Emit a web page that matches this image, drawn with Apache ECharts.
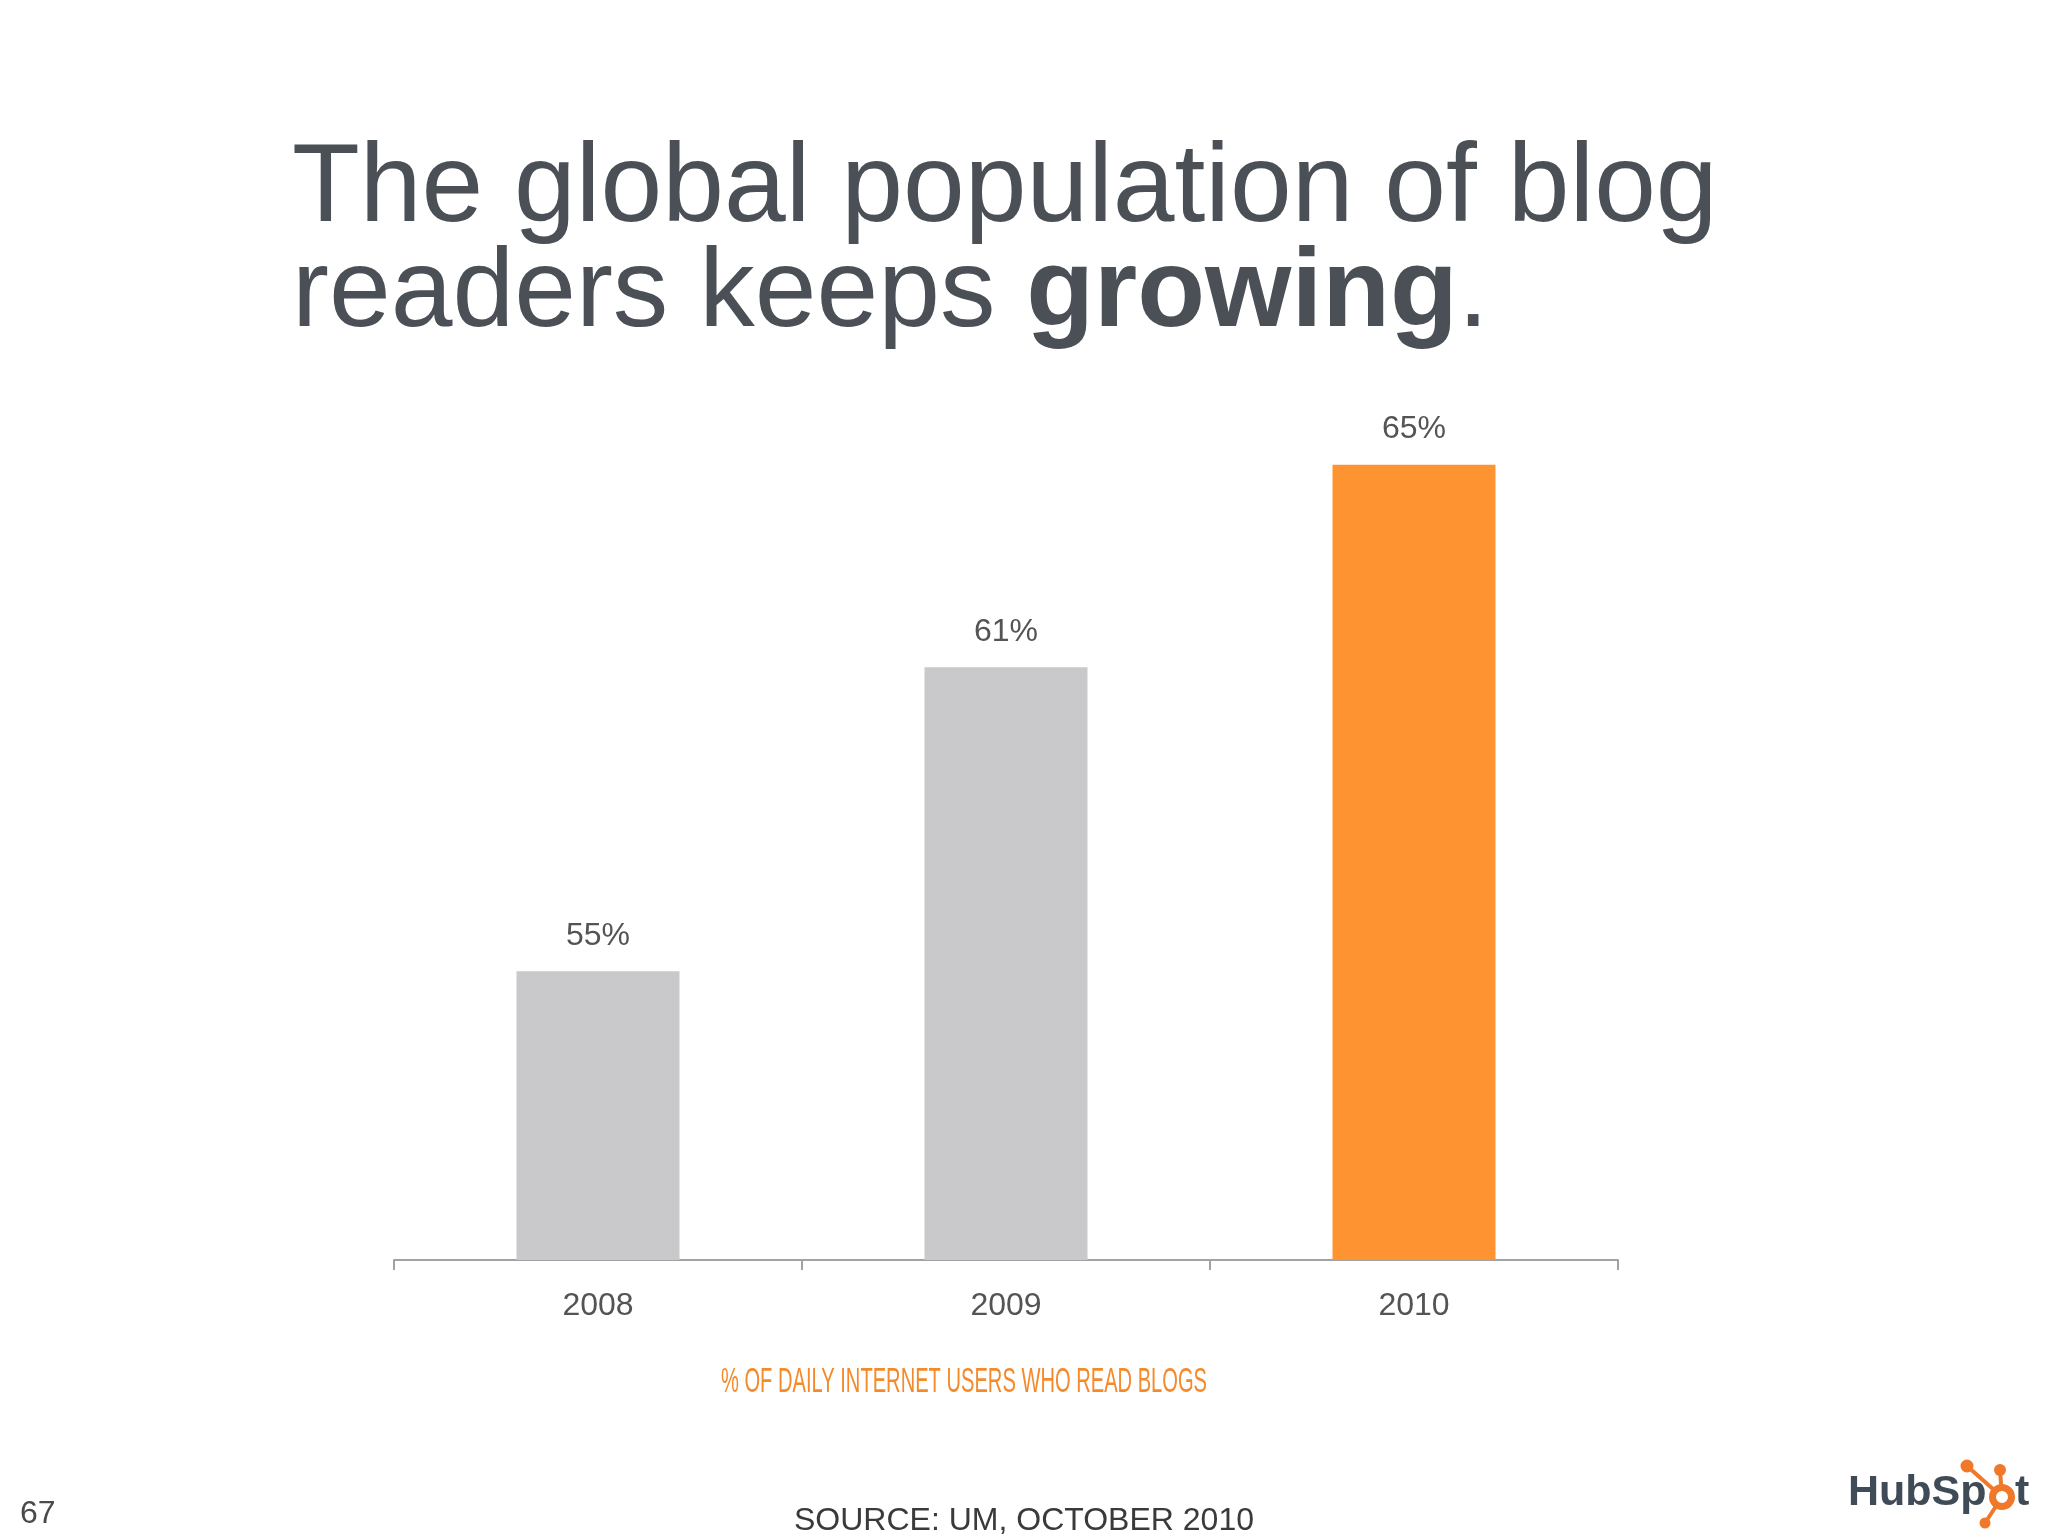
<!DOCTYPE html>
<html>
<head>
<meta charset="utf-8">
<script src="https://cdn.jsdelivr.net/npm/echarts@6/dist/echarts.min.js"></script>
<style>
html,body{margin:0;padding:0;background:#ffffff;}
#chart{width:2048px;height:1536px;}
</style>
</head>
<body>
<div id="chart"></div>
<script>
// ---- data ----
const categories = ['2008', '2009', '2010'];
const readerShare = [55, 61, 65];
const highlightCategory = '2010';
const titleLine1 = 'The global population of blog';
const titleLine2Start = 'readers keeps ';
const titleBoldWord = 'growing';
const titleLine2End = '.';
const subtitleText = '% OF DAILY INTERNET USERS WHO READ BLOGS';
const sourceText = 'SOURCE: UM, OCTOBER 2010';
const pageNumber = '67';

// ---- styles ----
const FONT = '"Liberation Sans", "Helvetica Neue", Arial, sans-serif';
const TEXT_DARK = '#4b5056';
const LABEL_GREY = '#545454';
const BAR_GREY = '#c9c8cb';
const BAR_ORANGE = '#fe9331';
const AXIS_GREY = '#a2a2a2';
const SUB_ORANGE = '#f58a2b';
const LOGO_SLATE = '#3f4b56';
const LOGO_ORANGE = '#f0782a';

const chart = echarts.init(document.getElementById('chart'), null, {renderer: 'canvas'});

const option = {
  backgroundColor: '#ffffff',
  animation: false,
  title: {
    text: titleLine1 + '\n' + titleLine2Start + '{b|' + titleBoldWord + '}' + titleLine2End,
    left: 292,
    top: 138,
    padding: 0,
    textStyle: {
      fontFamily: FONT,
      fontSize: 111,
      fontWeight: 'normal',
      color: TEXT_DARK,
      lineHeight: 105,
      rich: {
        b: {
          fontFamily: FONT,
          fontSize: 111,
          fontWeight: 'bold',
          color: TEXT_DARK,
          lineHeight: 105
        }
      }
    }
  },
  grid: {
    left: 394,
    right: 430,
    top: 414,
    bottom: 276,
    containLabel: false
  },
  xAxis: {
    type: 'category',
    data: categories,
    boundaryGap: true,
    axisLine: {show: true, lineStyle: {color: AXIS_GREY, width: 2}},
    axisTick: {show: true, inside: false, length: 10, lineStyle: {color: AXIS_GREY, width: 2}},
    axisLabel: {
      fontFamily: FONT,
      fontSize: 32,
      color: LABEL_GREY,
      margin: 30
    },
    splitLine: {show: false}
  },
  yAxis: {
    type: 'value',
    min: 49.3,
    max: 66,
    show: false,
    splitLine: {show: false}
  },
  series: [{
    type: 'bar',
    data: readerShare,
    barWidth: 163,
    itemStyle: {
      color: function (p) {
        return categories[p.dataIndex] === highlightCategory ? BAR_ORANGE : BAR_GREY;
      }
    },
    label: {
      show: true,
      position: 'top',
      distance: 19,
      formatter: '{c}%',
      fontFamily: FONT,
      fontSize: 32,
      color: LABEL_GREY
    }
  }],
  graphic: [
    {
      type: 'text',
      x: 964,
      y: 1382,
      scaleX: 0.575,
      style: {
        text: subtitleText,
        fontFamily: FONT,
        fontSize: 35,
        fill: SUB_ORANGE,
        align: 'center',
        verticalAlign: 'middle'
      }
    },
    {
      type: 'text',
      x: 1024,
      y: 1521,
      style: {
        text: sourceText,
        fontFamily: FONT,
        fontSize: 32,
        fill: '#3a3a3a',
        align: 'center',
        verticalAlign: 'middle'
      }
    },
    {
      type: 'text',
      x: 20,
      y: 1514,
      style: {
        text: pageNumber,
        fontFamily: FONT,
        fontSize: 32,
        fill: '#4a4a4a',
        align: 'left',
        verticalAlign: 'middle'
      }
    },
    // HubSpot logo
    {
      type: 'text',
      x: 1848,
      y: 1493,
      style: {
        text: 'HubSp',
        fontFamily: FONT,
        fontSize: 43,
        fontWeight: 'bold',
        fill: LOGO_SLATE,
        align: 'left',
        verticalAlign: 'middle'
      }
    },
    {
      type: 'text',
      x: 2015,
      y: 1493,
      style: {
        text: 't',
        fontFamily: FONT,
        fontSize: 43,
        fontWeight: 'bold',
        fill: LOGO_SLATE,
        align: 'left',
        verticalAlign: 'middle'
      }
    },
    {type: 'line', z: 10, shape: {x1: 2002, y1: 1497, x2: 2000, y2: 1470}, style: {stroke: LOGO_ORANGE, lineWidth: 4}},
    {type: 'line', z: 10, shape: {x1: 2002, y1: 1497, x2: 1967, y2: 1466}, style: {stroke: LOGO_ORANGE, lineWidth: 4}},
    {type: 'line', z: 10, shape: {x1: 2002, y1: 1497, x2: 1985, y2: 1523}, style: {stroke: LOGO_ORANGE, lineWidth: 4}},
    {type: 'circle', z: 11, shape: {cx: 2000, cy: 1470, r: 6}, style: {fill: LOGO_ORANGE}},
    {type: 'circle', z: 11, shape: {cx: 1967, cy: 1466, r: 6.5}, style: {fill: LOGO_ORANGE}},
    {type: 'circle', z: 11, shape: {cx: 1985, cy: 1523, r: 5.5}, style: {fill: LOGO_ORANGE}},
    {type: 'circle', z: 12, shape: {cx: 2002, cy: 1497, r: 9.5}, style: {fill: '#ffffff', stroke: LOGO_ORANGE, lineWidth: 7}}
  ]
};

chart.setOption(option);
</script>
</body>
</html>
